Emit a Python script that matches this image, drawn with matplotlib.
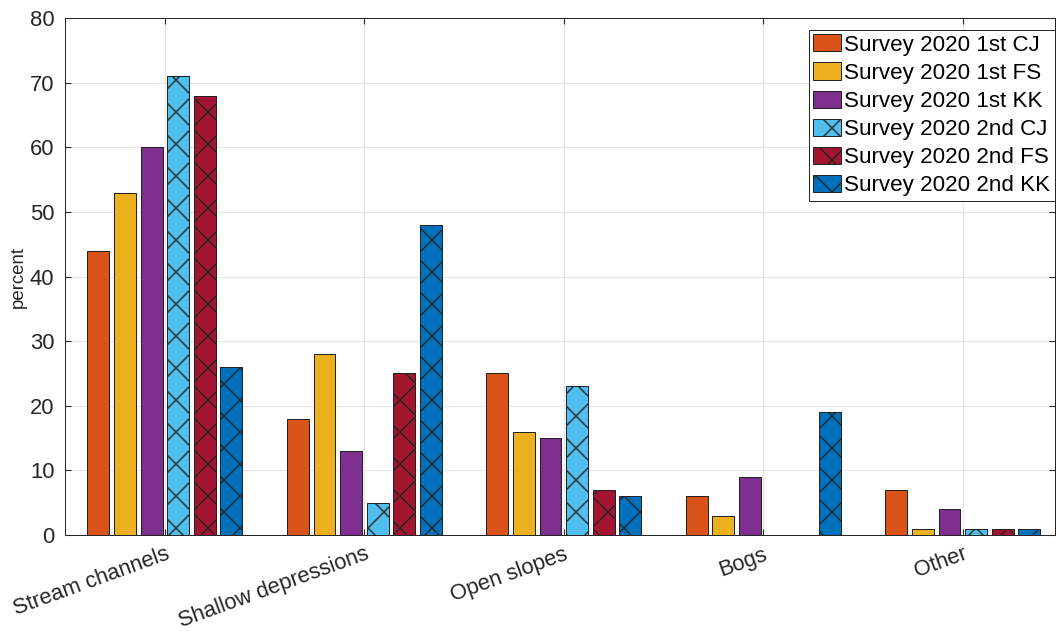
import numpy as np
import matplotlib
matplotlib.use('Agg')
import matplotlib.pyplot as plt

# categories and survey values (percent)
categories = ['Stream channels', 'Shallow depressions', 'Open slopes', 'Bogs', 'Other']
series_names = ['Survey 2020 1st CJ', 'Survey 2020 1st FS', 'Survey 2020 1st KK',
                'Survey 2020 2nd CJ', 'Survey 2020 2nd FS', 'Survey 2020 2nd KK']
first_cj = [44, 18, 25, 6, 7]
first_fs = [53, 28, 16, 3, 1]
first_kk = [60, 13, 15, 9, 4]
second_cj = [71, 5, 23, 0, 1]
second_fs = [68, 25, 7, 0, 1]
second_kk = [26, 48, 6, 19, 1]
yticks = [0, 10, 20, 30, 40, 50, 60, 70, 80]

series = [first_cj, first_fs, first_kk, second_cj, second_fs, second_kk]
colors = ['#D95319', '#EDB120', '#7E2F8E', '#4DBEEE', '#A2142F', '#0072BD']
hatches = [None, None, None, 'x', 'x', 'x']

plt.rcParams['font.family'] = ['Liberation Sans', 'DejaVu Sans']
plt.rcParams['hatch.linewidth'] = 1.0

fig = plt.figure(figsize=(1056 / 96, 631 / 96), dpi=96)
ax = fig.add_axes([0.0616, 0.152, 0.937, 0.8195])

x = np.arange(1, len(categories) + 1)
step = 0.133
width = 0.11
for i, vals in enumerate(series):
    ax.bar(x + (i - 2.5) * step, vals, width, color=colors[i], edgecolor='#222222',
           linewidth=0.75, hatch=hatches[i], label=series_names[i], zorder=3)

ax.set_xlim(0.5, 5.46)
ax.set_ylim(0, 80)
ax.set_yticks(yticks)
ax.set_xticks(x)
ax.set_xticklabels(categories, rotation=20, ha='right', rotation_mode='anchor')
ax.set_ylabel('percent', fontsize=14, color='#262626', labelpad=2)
ax.tick_params(axis='both', direction='in', length=4.5, labelsize=16.5, colors='#262626',
               top=True, right=True)
ax.tick_params(axis='y', pad=8)
ax.tick_params(axis='x', pad=6.5)
ax.grid(True, color='#E6E6E6', linewidth=0.9, zorder=0)
for s in ax.spines.values():
    s.set_color('#262626')
    s.set_linewidth(0.75)

leg = ax.legend(loc='upper right', bbox_to_anchor=(1.0, 0.977), fontsize=16.8,
                frameon=True, fancybox=False, edgecolor='#262626', framealpha=1,
                borderpad=0.2, labelspacing=0.3, handlelength=1.25, handleheight=0.8,
                handletextpad=0.12, borderaxespad=0.0)
leg.get_frame().set_linewidth(0.75)

fig.savefig('out.png', dpi=96)
